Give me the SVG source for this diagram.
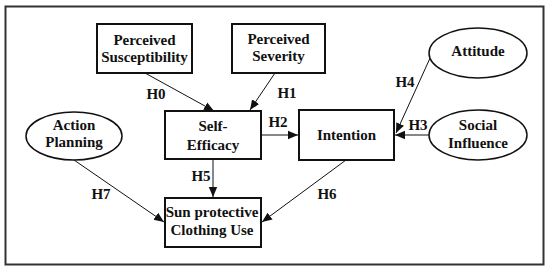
<svg xmlns="http://www.w3.org/2000/svg" width="550" height="272" viewBox="0 0 550 272">
<style>
text{font-family:"Liberation Serif","Times New Roman",serif;font-weight:bold;font-size:15px;fill:#111;text-anchor:middle}
.box{fill:#fff;stroke:#111;stroke-width:2}
.ell{fill:#fff;stroke:#111;stroke-width:1.5}
.con{stroke:#111;stroke-width:1;fill:none;marker-end:url(#ah)}
</style>
<defs>
<marker id="ah" viewBox="0 0 10 10" refX="10" refY="5" markerWidth="10" markerHeight="10" markerUnits="userSpaceOnUse" orient="auto">
<path d="M0,0.8 L10,5 L0,9.2 Z" fill="#111"/>
</marker>
</defs>
<rect x="0" y="0" width="550" height="272" fill="#fff"/>
<rect x="5.5" y="6.5" width="538" height="258" fill="none" stroke="#333" stroke-width="2"/>
<g id="connectors">
<line class="con" x1="145" y1="73" x2="214" y2="111"/>
<line class="con" x1="275" y1="73" x2="250" y2="110"/>
<line class="con" x1="261" y1="135" x2="298" y2="135"/>
<line class="con" x1="429" y1="135" x2="395" y2="135"/>
<line class="con" x1="431" y1="56" x2="396" y2="133"/>
<line class="con" x1="213" y1="159" x2="213" y2="197"/>
<line class="con" x1="346" y1="160" x2="262" y2="222"/>
<line class="con" x1="74" y1="160" x2="164" y2="222"/>
<text x="156" y="99">H0</text>
<text x="287" y="98">H1</text>
<text x="278" y="127">H2</text>
<text x="418" y="130">H3</text>
<text x="405" y="87">H4</text>
<text x="201" y="181">H5</text>
<text x="327" y="199">H6</text>
<text x="101" y="199">H7</text>
</g>
<g id="perceived-susceptibility">
<rect class="box" x="97" y="24" width="95" height="49"/>
<text x="144.5" y="45">Perceived</text>
<text x="144.5" y="62">Susceptibility</text>
</g>
<g id="perceived-severity">
<rect class="box" x="232" y="24" width="93" height="49"/>
<text x="278.5" y="44">Perceived</text>
<text x="278.5" y="61">Severity</text>
</g>
<g id="self-efficacy">
<rect class="box" x="165" y="111" width="96" height="48"/>
<text x="213" y="131">Self-</text>
<text x="213" y="150">Efficacy</text>
</g>
<g id="intention">
<rect class="box" x="299" y="110" width="95" height="50"/>
<text x="346.5" y="140">Intention</text>
</g>
<g id="sun-protective-clothing-use">
<rect class="box" x="165" y="198" width="96" height="49"/>
<text x="212" y="217">Sun protective</text>
<text x="212" y="235">Clothing Use</text>
</g>
<g id="action-planning">
<ellipse class="ell" cx="74" cy="136" rx="48" ry="24"/>
<text x="74" y="130">Action</text>
<text x="74" y="147">Planning</text>
</g>
<g id="attitude">
<ellipse class="ell" cx="478" cy="53" rx="49" ry="25"/>
<text x="478" y="56">Attitude</text>
</g>
<g id="social-influence">
<ellipse class="ell" cx="478" cy="135" rx="49" ry="25"/>
<text x="478" y="130">Social</text>
<text x="478" y="148">Influence</text>
</g>
</svg>
